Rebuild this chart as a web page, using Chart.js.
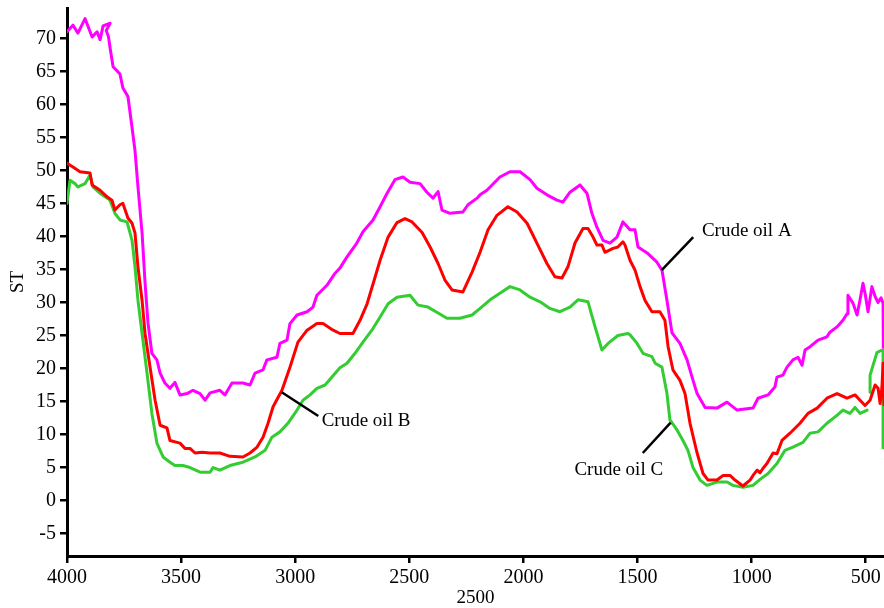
<!DOCTYPE html>
<html>
<head>
<meta charset="utf-8">
<script src="https://cdn.jsdelivr.net/npm/chart.js@4"></script>
<style>
html,body{margin:0;padding:0;background:#fff;}
#wrap{width:884px;height:608px;position:relative;}
</style>
</head>
<body>
<div id="wrap"><canvas id="c" width="884" height="608"></canvas></div>
<script>
// ---- data (wavenumber, ST) ----
const aX = [4000,3974,3952,3921,3890,3868,3855,3842,3811,3828,3818,3811,3798,3768,3755,3733,3715,3702,3689,3671,3658,3645,3628,3606,3592,3571,3549,3527,3505,3474,3448,3417,3395,3373,3330,3308,3277,3229,3198,3176,3141,3124,3080,3067,3036,3023,2992,2948,2922,2905,2861,2826,2804,2773,2730,2703,2659,2628,2598,2563,2528,2497,2453,2423,2396,2374,2357,2322,2265,2243,2203,2190,2160,2146,2103,2059,2015,1971,1941,1897,1853,1827,1796,1752,1721,1700,1678,1651,1621,1590,1564,1533,1511,1498,1458,1415,1393,1371,1349,1314,1283,1261,1239,1204,1152,1108,1064,994,972,928,898,889,863,845,819,797,779,766,744,709,670,657,626,600,582,578,556,538,525,512,503,490,473,459,446,433,424,423];
const aY = [71,72,70.8,73,70.2,71,69.8,71.9,72.3,71.2,70.2,68.5,65.7,64.6,62.5,61.2,56.5,53,47.5,40.5,33,26.9,22.3,21.3,19.3,17.8,17,17.9,16,16.2,16.7,16.2,15.2,16.3,16.7,16,17.8,17.8,17.5,19.3,19.8,21.3,21.7,23.8,24.3,26.8,28.1,28.6,29.3,31.1,32.6,34.4,35.2,36.9,39,40.7,42.5,44.5,46.5,48.6,49,48.2,48,46.7,45.8,46.8,44,43.5,43.7,44.8,45.8,46.3,47,47.5,49,49.8,49.8,48.6,47.3,46.3,45.5,45.2,46.7,47.8,46.5,43.5,41.4,39.4,39,39.9,42.2,41,41,38.4,37.5,36.1,34.9,30.3,25.4,23.8,21.3,18.7,16.2,14.1,14,14.9,13.7,14,15.5,16,17.2,18.7,19,20.2,21.3,21.7,20.5,22.8,23.3,24.3,24.8,25.5,26.3,27.3,28.3,31.1,29.9,28.1,30.4,32.9,31.4,28.6,32.4,30.9,30,30.7,29.9,23.2];

const bX = [4000,3974,3943,3899,3890,3855,3825,3803,3790,3768,3755,3733,3715,3702,3689,3671,3658,3636,3614,3592,3562,3549,3505,3483,3461,3439,3408,3373,3330,3286,3229,3198,3167,3141,3119,3097,3058,3023,2988,2948,2905,2878,2834,2804,2747,2716,2685,2659,2628,2593,2554,2519,2488,2444,2409,2374,2344,2313,2265,2225,2190,2155,2116,2068,2028,1984,1941,1897,1862,1831,1805,1774,1739,1717,1695,1678,1656,1643,1607,1586,1564,1555,1533,1511,1489,1467,1437,1402,1380,1366,1345,1314,1292,1270,1239,1213,1191,1152,1125,1095,1073,1038,1007,994,976,963,950,933,906,889,867,832,788,753,713,670,626,582,547,525,503,481,459,446,437,429,424,420];
const bY = [51.1,50.5,49.8,49.6,47.8,47,46,45.5,44,44.8,45,42.8,42,40.5,35.4,30.3,25.3,20.2,15.2,11.4,11,9.1,8.7,7.9,7.9,7.2,7.3,7.2,7.2,6.7,6.6,7.2,8.1,9.6,11.7,14.2,16.7,20.2,24,25.8,26.8,26.8,25.8,25.3,25.3,27.3,29.8,32.8,36.4,39.9,42.1,42.7,42.2,40.6,38.4,35.9,33.4,31.9,31.6,34.6,37.6,41,43.2,44.5,43.7,42,39,35.9,33.9,33.7,35.4,39,41.2,41.2,39.9,38.7,38.7,37.6,38.2,38.4,39.2,38.7,36.4,34.9,32.4,30.3,28.6,28.6,27.3,23.3,19.8,18.2,16.2,11.7,7.2,4.1,3.1,3.1,3.8,3.8,3.1,2.2,3.1,3.8,4.6,4.2,4.9,5.6,7.2,7.1,9.1,10.2,11.7,13.2,14,15.5,16.2,15.5,16,15.2,14.4,15.2,17.5,17,14.7,17.2,20.8,14.5];

const cX = [4000,3987,3965,3952,3921,3899,3886,3855,3833,3812,3790,3768,3737,3715,3702,3689,3671,3649,3628,3606,3579,3549,3527,3492,3461,3417,3373,3360,3330,3286,3229,3176,3132,3102,3067,3032,2992,2966,2935,2905,2869,2839,2804,2773,2738,2703,2664,2628,2593,2554,2497,2462,2418,2374,2335,2278,2225,2190,2146,2103,2059,2015,1971,1927,1884,1840,1796,1761,1717,1686,1656,1629,1586,1542,1533,1502,1476,1437,1423,1393,1371,1358,1327,1301,1279,1257,1226,1196,1152,1108,1082,1038,994,963,928,889,854,819,775,744,709,670,626,600,569,547,525,494,488,481,481,451,429,424,424];
const cY = [45,48.5,48,47.5,48,49.3,47.5,46.5,46,45.5,43.5,42.5,42.2,39.4,35.4,30.3,25.3,19.2,13.2,8.7,6.6,5.8,5.3,5.3,5,4.3,4.3,5,4.6,5.3,5.8,6.6,7.6,9.6,10.4,11.7,13.7,15.2,16,17,17.5,18.7,20.1,20.8,22.3,24,25.8,27.8,29.8,30.8,31.1,29.6,29.3,28.4,27.6,27.6,28.1,29.1,30.4,31.4,32.4,31.9,30.8,30.1,29.1,28.6,29.3,30.4,30.1,26.3,22.8,23.8,25,25.3,25.1,23.8,22.3,21.8,20.8,20.2,16.2,12.2,10.7,9.1,7.6,5,3.1,2.3,2.8,2.8,2.3,2,2.3,3.2,4.1,5.6,7.6,8.1,8.8,10.2,10.4,11.7,12.9,13.7,13.2,14.1,13.2,13.7,null,16.4,19,22.4,22.8,22.8,8];

const xTicks = [4000,3500,3000,2500,2000,1500,1000,500];
const yTicks = [-5,0,5,10,15,20,25,30,35,40,45,50,55,60,65,70];
const seriesNames = ['Crude oil A','Crude oil B','Crude oil C'];

// annotation anchors (data coordinates)
const notes = [
  {text:'Crude oil A', line:[[1394,34.9],[1256,39.9]], at:[1218,40.8], align:'left'},
  {text:'Crude oil B', line:[[3059,16.4],[2899,12.8]], at:[2884,12.0], align:'left'},
  {text:'Crude oil C', line:[[1355,11.8],[1477,7.2]], at:[1388,4.6], align:'right'}
];

function pts(xs, ys){ return xs.map((x,i)=>({x:x, y:ys[i]})); }

const FONT = "'Liberation Serif','Times New Roman',serif";

const notePlugin = {
  id:'notes',
  afterDatasetsDraw(chart){
    const ctx = chart.ctx, xs = chart.scales.x, ys = chart.scales.y;
    ctx.save();
    ctx.strokeStyle = '#000';
    ctx.lineWidth = 2.5;
    ctx.fillStyle = '#000';
    ctx.font = '19px ' + FONT;
    ctx.textBaseline = 'middle';
    notes.forEach(n=>{
      ctx.beginPath();
      ctx.moveTo(xs.getPixelForValue(n.line[0][0]), ys.getPixelForValue(n.line[0][1]));
      ctx.lineTo(xs.getPixelForValue(n.line[1][0]), ys.getPixelForValue(n.line[1][1]));
      ctx.stroke();
      ctx.textAlign = n.align;
      ctx.fillText(n.text, xs.getPixelForValue(n.at[0]), ys.getPixelForValue(n.at[1]));
    });
    ctx.restore();
  }
};

new Chart(document.getElementById('c'), {
  type:'line',
  data:{
    datasets:[
      {label:seriesNames[0], data:pts(aX,aY), borderColor:'#ff00ff', borderWidth:3},
      {label:seriesNames[1], data:pts(bX,bY), borderColor:'#ff0000', borderWidth:3},
      {label:seriesNames[2], data:pts(cX,cY), borderColor:'#33cc33', borderWidth:3}
    ]
  },
  options:{
    responsive:false,
    animation:false,
    parsing:true,
    spanGaps:false,
    elements:{point:{radius:0}, line:{tension:0, borderJoinStyle:'round', borderCapStyle:'round'}},
    layout:{padding:{top:8,right:0,left:0,bottom:0}},
    plugins:{legend:{display:false}, tooltip:{enabled:false}},
    scales:{
      x:{
        type:'linear', reverse:true, min:420, max:4000,
        afterBuildTicks(s){ s.ticks = xTicks.map(v=>({value:v})); },
        afterFit(s){ s.height = 52; s.paddingLeft = 0; s.paddingRight = 0; },
        ticks:{color:'#000', font:{family:FONT, size:20}, padding:3, maxRotation:0, autoSkip:false,
               callback:(v)=>String(v)},
        grid:{drawOnChartArea:false, drawTicks:true, tickLength:7, color:'#000', lineWidth:2.5},
        border:{display:true, color:'#000', width:3},
        title:{display:true, text:'2500', color:'#000', font:{family:FONT, size:19, lineHeight:1}, padding:{top:0,bottom:0}}
      },
      y:{
        type:'linear', min:-8.4, max:74.6,
        afterBuildTicks(s){ s.ticks = yTicks.map(v=>({value:v})); },
        afterFit(s){ s.width = 67; s.paddingTop = 0; s.paddingBottom = 0; },
        ticks:{color:'#000', font:{family:FONT, size:20}, padding:4, callback:(v)=>String(v)},
        grid:{drawOnChartArea:false, drawTicks:true, tickLength:7, color:'#000', lineWidth:2.5},
        border:{display:true, color:'#000', width:3},
        title:{display:true, text:'ST', color:'#000', font:{family:FONT, size:19, lineHeight:1}, padding:{top:8.5,bottom:0}}
      }
    }
  },
  plugins:[notePlugin]
});
</script>
</body>
</html>
